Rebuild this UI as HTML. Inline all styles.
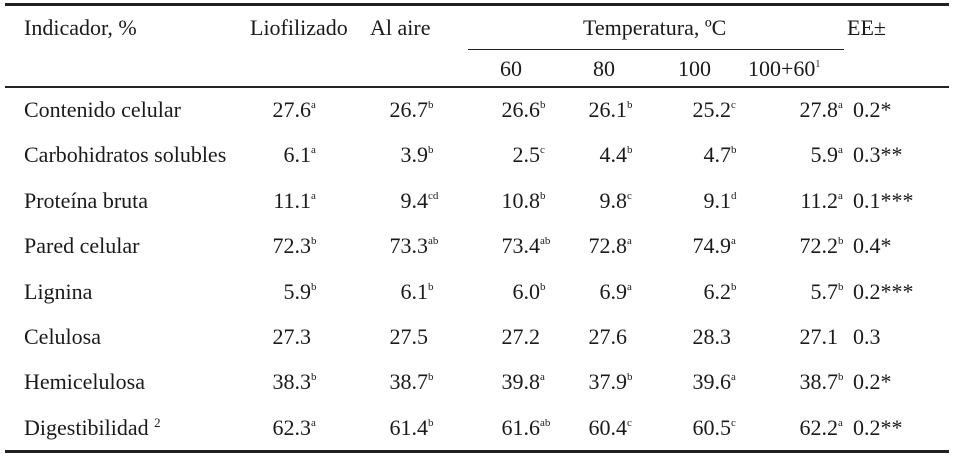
<!DOCTYPE html>
<html><head><meta charset="utf-8">
<style>
html,body{margin:0;padding:0;background:#fff}
#t{position:relative;width:958px;height:456px;font-family:"Liberation Serif",serif;font-size:22px;color:#1a1a1a}
.c{position:absolute;white-space:nowrap;line-height:24px}
.c sup{font-size:11px;line-height:0;position:relative;top:-2px;vertical-align:baseline}
.n{position:absolute;white-space:nowrap;line-height:24px;transform:translateX(-100%)}
.n sup{position:absolute;left:100%;top:2px;font-size:11px;line-height:11px}
.rule{position:absolute;background:#222}
</style></head><body>
<div id="t">
<div class="rule" style="left:5px;top:3px;width:944px;height:3px"></div>
<div class="rule" style="left:468px;top:49px;width:376px;height:1px"></div>
<div class="rule" style="left:5px;top:86px;width:944px;height:2px"></div>
<div class="rule" style="left:5px;top:450px;width:944px;height:3px"></div>
<div class="c" style="left:24px;top:16px">Indicador, %</div>
<div class="c" style="left:250px;top:16px">Liofilizado</div>
<div class="c" style="left:370px;top:16px">Al aire</div>
<div class="c" style="left:583px;top:16px">Temperatura, ºC</div>
<div class="c" style="left:847px;top:16px">EE±</div>
<div class="c" style="left:500px;top:57px">60</div>
<div class="c" style="left:593px;top:57px">80</div>
<div class="c" style="left:678px;top:57px">100</div>
<div class="c" style="left:748px;top:57px">100+60<sup style="font-size:10px;top:-9px">1</sup></div>
</div>
<script>
const labels=["Contenido celular","Carbohidratos solubles","Proteína bruta","Pared celular","Lignina","Celulosa","Hemicelulosa","Digestibilidad <sup style='font-size:13px;top:-8px'>2</sup>"];
const vals=[["27.6","26.7","26.6","26.1","25.2","27.8"],["6.1","3.9","2.5","4.4","4.7","5.9"],["11.1","9.4","10.8","9.8","9.1","11.2"],["72.3","73.3","73.4","72.8","74.9","72.2"],["5.9","6.1","6.0","6.9","6.2","5.7"],["27.3","27.5","27.2","27.6","28.3","27.1"],["38.3","38.7","39.8","37.9","39.6","38.7"],["62.3","61.4","61.6","60.4","60.5","62.2"]];
const sups=[["a","b","b","b","c","a"],["a","b","c","b","b","a"],["a","cd","b","c","d","a"],["b","ab","ab","a","a","b"],["b","b","b","a","b","b"],["","","","","",""],["b","b","a","b","a","b"],["a","b","ab","c","c","a"]];
const ee=["0.2*","0.3**","0.1***","0.4*","0.2***","0.3","0.2*","0.2**"];
const colX=[311,428,540,627,731,838];
const root=document.getElementById('t');
labels.forEach((l,i)=>{
 const y=98+i*45.4;
 const d=document.createElement('div');d.className='c';d.style.left='24px';d.style.top=y+'px';d.innerHTML=l;
 
 
 root.appendChild(d);
 vals[i].forEach((v,j)=>{
  const n=document.createElement('div');n.className='n';n.style.left=colX[j]+'px';n.style.top=y+'px';
  n.innerHTML=v+(sups[i][j]?'<sup>'+sups[i][j]+'</sup>':'');
  
  
  root.appendChild(n);
 });
 const e=document.createElement('div');e.className='c';e.style.left='853px';e.style.top=y+'px';e.textContent=ee[i];
 
 
 root.appendChild(e);
});
</script>
</body></html>
